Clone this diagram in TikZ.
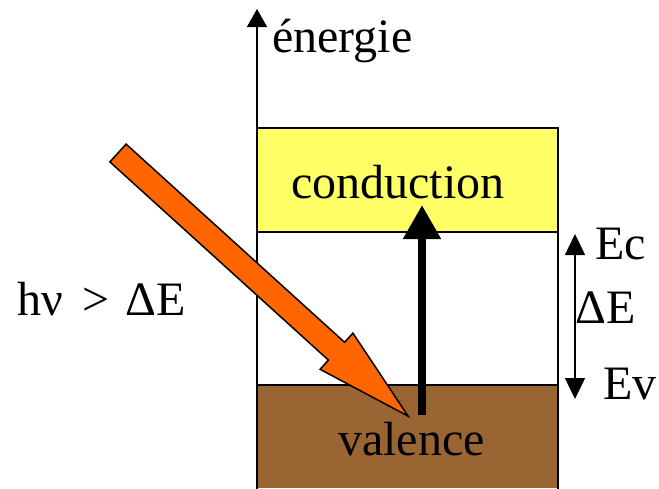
\documentclass[tikz,border=0pt]{standalone}
\usepackage{fontspec}
\setmainfont{Liberation Serif}
\usetikzlibrary{arrows.meta,positioning}
\definecolor{condyellow}{HTML}{FFFF66}
\definecolor{valbrown}{HTML}{996633}
\definecolor{photon}{HTML}{FF6600}

\begin{document}
\begin{tikzpicture}[
    x=1pt, y=-1pt,
    font=\fontsize{48}{54}\selectfont,
    label/.style={anchor=base west, inner sep=0pt},
    band/.style={draw, line width=1.5pt},
    axisarrow/.style={-{Triangle[length=18pt,width=20pt]}, line width=1.5pt},
    gaparrow/.style={{Triangle[length=21pt,width=20pt]}-{Triangle[length=21pt,width=20pt]}, line width=1.5pt}
]
\useasboundingbox (0,0) rectangle (659,488);
% bands
\draw[band, fill=condyellow] (257,128) rectangle (558,232);
\draw[band, fill=white] (257,232) rectangle (558,385);
\fill[valbrown] (257.75,385.75) rectangle (557.25,488);
\draw[band] (257,490) -- (257,385) -- (558,385) -- (558,490);
\node[label] (cond) at (291,198) {conduction};
\node[label] (val) at (338,455) {valence};
% energy axis
\coordinate (axisfoot) at (257,488);
\coordinate (axistop) at (257,9);
\draw[axisarrow] (axisfoot) -- (axistop);
\node[label] (energie) at (272,52) {énergie};
% excitation
\coordinate (vtop) at (422,415);
\coordinate (ctop) at (422,205);
\draw[-{Triangle[length=34pt,width=36pt]}, line width=8pt] (vtop) -- (ctop);
% incoming photon
\coordinate (p1) at (109.9,161.9);
\coordinate (p2) at (126.1,144.1);
\coordinate (p3) at (344.6,342.3);
\coordinate (p4) at (352.9,333.1);
\coordinate (tip) at (408.1,416.1);
\coordinate (p6) at (320.1,369.3);
\coordinate (p7) at (328.4,360.1);
\filldraw[fill=photon, line width=1.5pt, line join=miter] (p1) -- (p2) -- (p3) -- (p4) -- (tip) -- (p6) -- (p7) -- cycle;
\node[label] (hnu) at (17,315) {hν\hspace{0.4em}>\hspace{0.35em}ΔE};
% gap
\coordinate (ec) at (575,234);
\coordinate (ev) at (575,399);
\draw[gaparrow] (ec) -- (ev);
\node[label] (eclab) at (595,259) {Ec};
\node[label] (delta) at (575,323) {ΔE};
\node[label] (evlab) at (603,399) {Ev};
\end{tikzpicture}
\end{document}
